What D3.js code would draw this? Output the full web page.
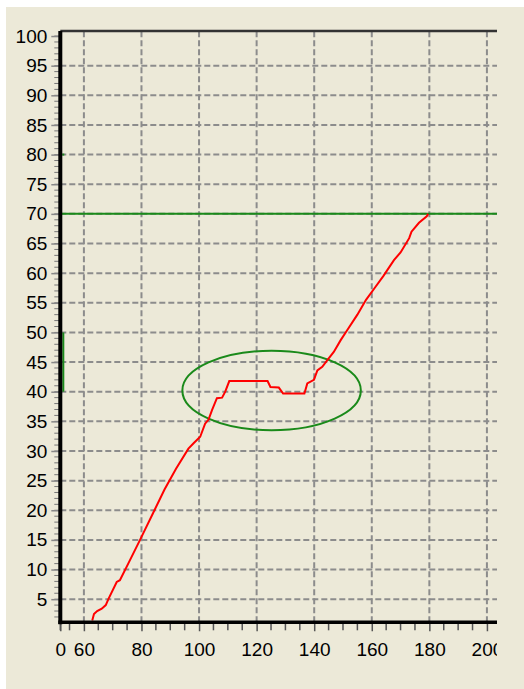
<!DOCTYPE html>
<html>
<head>
<meta charset="utf-8">
<script src="https://cdn.jsdelivr.net/npm/d3@7"></script>
<style>
  body { margin: 0; background: #ffffff; }
  .tick_text { font-family: "Liberation Sans", Arial, sans-serif; font-size: 19px; fill: #000; }
</style>
</head>
<body>
<div id="chart"></div>
<script>
// values
const xTickValues = [51.8, 60, 80, 100, 120, 140, 160, 180, 200]
const xTickLabels = ["0", "60", "80", "100", "120", "140", "160", "180", "200"]
const yTickValues = [5, 10, 15, 20, 25, 30, 35, 40, 45, 50, 55, 60, 65, 70, 75, 80, 85, 90, 95, 100]
const xMinorTicks = [51.8, 55, 65, 70, 75, 85, 90, 95, 105, 110, 115, 125, 130, 135, 145, 150, 155, 165, 170, 175, 185, 190, 195]
const yMinorTicks = d3.range(2, 101, 1)

// red measured curve
const lineX = [62.9, 63.5, 64.6, 66.2, 67.6, 68.5, 71.4, 72.5, 75.4, 79.5, 84, 88, 92, 96.3, 98.1, 100.4, 102.1, 103.3, 104.5, 106.2, 108.0, 109.1, 110.5, 123.8, 124.8, 127.7, 129.2, 136.6, 137.6, 139.9, 141.1, 142.8, 144.5, 146.8, 149.2, 151.5, 155, 158, 161, 164, 167.7, 170, 173.0, 173.8, 176.4, 179.1, 179.6]
const lineY = [1.4, 2.5, 3.0, 3.4, 4.0, 5.0, 7.9, 8.2, 11.0, 15.0, 19.5, 23.5, 27, 30.4, 31.3, 32.4, 34.6, 35.3, 36.9, 38.9, 39.0, 40.0, 41.8, 41.8, 40.8, 40.7, 39.7, 39.7, 41.4, 42.0, 43.6, 44.2, 45.3, 46.7, 48.7, 50.4, 53, 55.5, 57.5, 59.5, 62.2, 63.5, 65.9, 67.0, 68.5, 69.6, 70]

// green marks
const limitValue = 70
const axisBand = [40, 50]
const axisDot = 80
const ellipseCenter = [125.2, 40.2]
const ellipseRadius = [31, 6.7]

let svg = d3.select("#chart")
  .append("svg")
  .attr("width", 524)
  .attr("height", 689)

svg.append("rect").attr("x", 6).attr("y", 7).attr("width", 518).attr("height", 682).style("fill", "#ece9d8")

let x = d3.scaleLinear().domain([51.8, 203.5]).range([60.3, 497])
let y = d3.scaleLinear().domain([1.1, 100.85]).range([622.3, 31])

let plotLeft = x.range()[0], plotRight = x.range()[1]
let plotBottom = y.range()[0], plotTop = y.range()[1]

// grid
let grid = svg.append("g")
grid.selectAll(".vgrid").data(xTickValues.slice(1)).enter().append("line")
  .attr("x1", d => x(d)).attr("x2", d => x(d)).attr("y1", plotBottom).attr("y2", plotTop)
  .style("stroke", "#8c8c8c").style("stroke-width", 2).style("stroke-dasharray", "6,3")
grid.selectAll(".hgrid").data(yTickValues.slice(0, -1)).enter().append("line")
  .attr("x1", plotLeft).attr("x2", plotRight).attr("y1", d => y(d)).attr("y2", d => y(d))
  .style("stroke", "#8c8c8c").style("stroke-width", 2).style("stroke-dasharray", "6,3")

// green limit line, axis band, ellipse
svg.append("line").attr("x1", plotLeft).attr("x2", plotRight).attr("y1", y(limitValue)).attr("y2", y(limitValue))
  .style("stroke", "#1a8a1a").style("stroke-width", 2)
svg.append("line").attr("x1", plotLeft + 3).attr("x2", plotLeft + 3).attr("y1", y(axisBand[0])).attr("y2", y(axisBand[1]))
  .style("stroke", "#1a8a1a").style("stroke-width", 2)
svg.append("rect").attr("x", plotLeft + 2).attr("y", y(axisDot) - 1).attr("width", 2).attr("height", 2).style("fill", "#1a8a1a")
svg.append("ellipse")
  .attr("cx", x(ellipseCenter[0])).attr("cy", y(ellipseCenter[1]))
  .attr("rx", x(ellipseCenter[0] + ellipseRadius[0]) - x(ellipseCenter[0]))
  .attr("ry", y(ellipseCenter[1]) - y(ellipseCenter[1] + ellipseRadius[1]))
  .style("fill", "none").style("stroke", "#1a8a1a").style("stroke-width", 2)

// red curve
let pts = lineX.map((d, i) => [d, lineY[i]])
svg.append("path").datum(pts)
  .attr("d", d3.line().x(d => x(d[0])).y(d => y(d[1])))
  .style("fill", "none").style("stroke", "#ff0000").style("stroke-width", 2)

// minor ticks
svg.selectAll(".xminor").data(xMinorTicks).enter().append("line")
  .attr("x1", d => x(d)).attr("x2", d => x(d)).attr("y1", plotBottom).attr("y2", plotBottom + 8)
  .style("stroke", "#555").style("stroke-width", 1.5)
svg.selectAll(".yminor").data(yMinorTicks).enter().append("line")
  .attr("x1", plotLeft - 6).attr("x2", plotLeft).attr("y1", d => y(d)).attr("y2", d => y(d))
  .style("stroke", "#777").style("stroke-width", 1)

// axes
let xAxis = d3.axisBottom(x).tickValues(xTickValues).tickSize(9).tickFormat((d, i) => xTickLabels[i])
let gx = svg.append("g").attr("transform", `translate(0,${plotBottom})`).call(xAxis)
gx.select(".domain").remove()
gx.selectAll(".tick line").style("stroke", "#555").style("stroke-width", 1.5)
gx.selectAll(".tick text").attr("class", "tick_text").attr("y", 20).attr("dy", "0.71em")

let clip = svg.append("clipPath").attr("id", "xclip")
clip.append("rect").attr("x", 0).attr("y", 0).attr("width", plotRight).attr("height", 689)
gx.attr("clip-path", "url(#xclip)")

let yAxis = d3.axisLeft(y).tickValues(yTickValues).tickSize(9).tickPadding(4)
let gy = svg.append("g").attr("transform", `translate(${plotLeft},0)`).call(yAxis)
gy.select(".domain").remove()
gy.selectAll(".tick line").style("stroke", "#888").style("stroke-width", 1.5)
gy.selectAll(".tick text").attr("class", "tick_text")

// frame lines
svg.append("line").attr("x1", plotLeft).attr("x2", plotRight).attr("y1", plotTop).attr("y2", plotTop)
  .style("stroke", "#333").style("stroke-width", 2.5)
svg.append("line").attr("x1", plotLeft).attr("x2", plotLeft).attr("y1", plotTop).attr("y2", plotBottom + 2)
  .style("stroke", "#000").style("stroke-width", 4)
svg.append("line").attr("x1", plotLeft - 2).attr("x2", plotRight).attr("y1", plotBottom).attr("y2", plotBottom)
  .style("stroke", "#000").style("stroke-width", 3.5)
</script>
</body>
</html>
